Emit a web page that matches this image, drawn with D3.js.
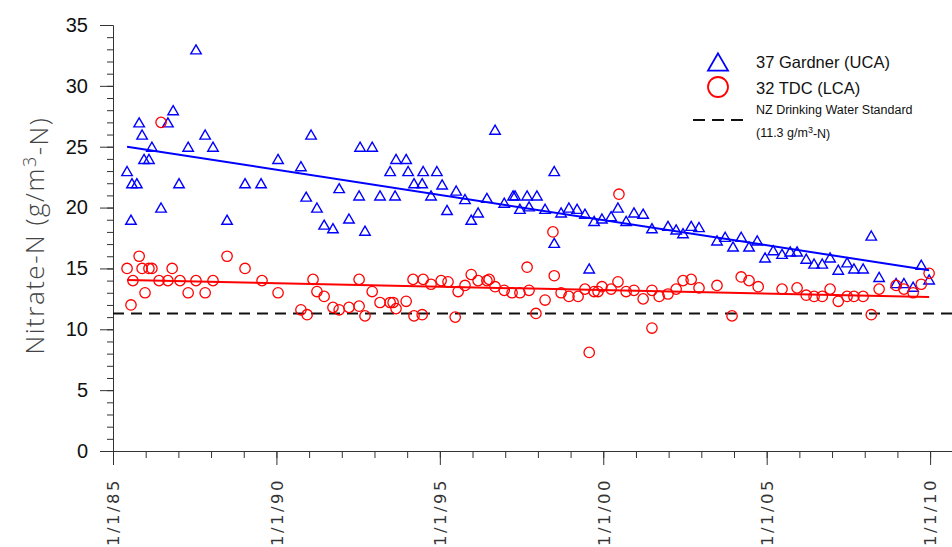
<!DOCTYPE html>
<html>
<head>
<meta charset="utf-8">
<script src="https://cdn.jsdelivr.net/npm/d3@7"></script>
<style>
  body { margin: 0; background: #fff; }
  svg { display: block; }
</style>
</head>
<body>
<script>
// sample dates (decimal years) and nitrate values, g/m3-N
const gardnerDates = [1985.43, 1985.55, 1985.58, 1985.73, 1985.80, 1985.89, 1985.95, 1986.10, 1986.19, 1986.47,
  1986.68, 1986.84, 1987.02, 1987.30, 1987.54, 1987.82, 1988.06, 1988.49, 1989.04, 1989.53,
  1990.05, 1990.75, 1990.91, 1991.06, 1991.24, 1991.46, 1991.73, 1991.92, 1992.22, 1992.53,
  1992.56, 1992.71, 1992.93, 1993.17, 1993.48, 1993.63, 1993.66, 1993.97, 1994.03, 1994.21,
  1994.46, 1994.49, 1994.73, 1994.91, 1995.07, 1995.22, 1995.50, 1995.77, 1995.96, 1996.17,
  1996.44, 1996.69, 1996.97, 1997.24, 1997.30, 1997.45, 1997.67, 1997.73, 1997.97, 1998.22,
  1998.50, 1998.50, 1998.71, 1998.95, 1999.20, 1999.44, 1999.57, 1999.72, 1999.96, 2000.24,
  2000.45, 2000.70, 2000.94, 2001.22, 2001.49, 2001.98, 2002.23, 2002.44, 2002.69, 2002.93,
  2003.48, 2003.73, 2003.97, 2004.22, 2004.46, 2004.71, 2004.95, 2005.20, 2005.47, 2005.72,
  2005.93, 2006.21, 2006.45, 2006.70, 2006.94, 2007.19, 2007.46, 2007.67, 2007.95, 2008.20,
  2008.44, 2008.96, 2009.20, 2009.48, 2009.73, 2009.97];
const gardnerValues = [23, 19, 22, 22, 27, 26, 24, 24, 25, 20,
  27, 28, 22, 25, 33, 26, 25, 19, 22, 22,
  24, 23.4, 20.9, 26, 20.0, 18.6, 18.3, 21.6, 19.1, 21.0,
  25, 18.1, 25, 21.0, 23.0, 21.0, 24, 24, 23, 22,
  22, 23, 21, 23, 21.9, 19.8, 21.4, 20.7, 19.0, 19.6,
  20.8, 26.4, 20.4, 21.0, 21.0, 19.9, 21.0, 20.1, 21.0, 19.9,
  23.0, 17.1, 19.6, 20.0, 19.9, 19.5, 15.0, 18.9, 19.1, 19.3,
  20.0, 18.9, 19.6, 19.5, 18.3, 18.5, 18.2, 17.9, 18.5, 18.4,
  17.3, 17.6, 16.8, 17.6, 16.8, 17.3, 15.9, 16.5, 16.2, 16.4,
  16.4, 15.8, 15.4, 15.4, 15.9, 14.9, 15.5, 15.0, 15.0, 17.7,
  14.3, 13.8, 13.8, 13.5, 15.3, 14.1];

const tdcDates = [1985.43, 1985.55, 1985.61, 1985.80, 1985.89, 1985.98, 1986.10, 1986.19, 1986.41, 1986.47,
  1986.68, 1986.81, 1987.05, 1987.30, 1987.54, 1987.82, 1988.06, 1988.49, 1989.04, 1989.56,
  1990.05, 1990.75, 1990.94, 1991.12, 1991.24, 1991.46, 1991.73, 1991.92, 1992.22, 1992.53,
  1992.53, 1992.71, 1992.93, 1993.17, 1993.48, 1993.57, 1993.66, 1993.97, 1994.18, 1994.21,
  1994.46, 1994.49, 1994.73, 1995.04, 1995.25, 1995.47, 1995.56, 1995.77, 1995.96, 1996.17,
  1996.44, 1996.51, 1996.69, 1996.97, 1997.21, 1997.45, 1997.67, 1997.73, 1997.94, 1998.22,
  1998.46, 1998.50, 1998.71, 1998.95, 1999.23, 1999.44, 1999.57, 1999.72, 1999.84, 1999.96,
  2000.24, 2000.45, 2000.48, 2000.70, 2000.94, 2001.22, 2001.49, 2001.49, 2001.71, 2001.98,
  2002.23, 2002.44, 2002.69, 2002.93, 2003.48, 2003.94, 2004.22, 2004.46, 2004.74, 2005.47,
  2005.93, 2006.21, 2006.45, 2006.70, 2006.94, 2007.19, 2007.46, 2007.67, 2007.95, 2008.20,
  2008.44, 2008.96, 2009.20, 2009.48, 2009.73, 2009.97];
const tdcValues = [15, 12, 14, 16, 15, 13, 15, 15, 14, 27,
  14, 15, 14, 13, 14, 13, 14, 16, 15, 14,
  13, 11.6, 11.2, 14.1, 13.1, 12.7, 11.8, 11.6, 11.8, 14.1,
  11.9, 11.1, 13.1, 12.2, 12.2, 12.2, 11.7, 12.3, 14.1, 11.1,
  11.2, 14.1, 13.7, 14.0, 13.9, 11.0, 13.1, 13.6, 14.5, 14.0,
  14.0, 14.1, 13.5, 13.2, 13.0, 13.0, 15.1, 13.2, 11.3, 12.4,
  18.0, 14.4, 13.0, 12.7, 12.7, 13.3, 8.1, 13.1, 13.1, 13.5,
  13.3, 13.9, 21.1, 13.1, 13.2, 12.5, 13.2, 10.1, 12.7, 12.9,
  13.3, 14.0, 14.1, 13.4, 13.6, 11.1, 14.3, 14.0, 13.5, 13.3,
  13.4, 12.8, 12.7, 12.7, 13.3, 12.3, 12.7, 12.7, 12.7, 11.2,
  13.3, 13.6, 13.3, 13.0, 13.7, 14.6];

// linear trends, start and end points
const gardnerTrend = [[1985.43, 25.0], [2009.97, 14.85]];
const tdcTrend = [[1985.43, 14.05], [2009.97, 12.65]];
const drinkingStandard = 11.3;

const yearTicks = [1985, 1990, 1995, 2000, 2005, 2010];
const yearTickLabels = ["1/1/85", "1/1/90", "1/1/95", "1/1/00", "1/1/05", "1/1/10"];
const valueTicks = [0, 5, 10, 15, 20, 25, 30, 35];

const width = 952, height = 547;

const svg = d3.select("body").append("svg")
    .attr("width", width)
    .attr("height", height)
    .style("font-family", "'Liberation Sans', Arial, sans-serif");

const x = d3.scaleLinear().domain([1985, 2010.67]).range([113, 952]);
const y = d3.scaleLinear().domain([0, 35]).range([451, 25]);

// axes: minor ticks first, then major
svg.append("g")
    .attr("transform", "translate(0," + y(0) + ")")
    .call(d3.axisBottom(x).tickValues(d3.range(1985, 2011)).tickSize(7).tickFormat(""))
    .call(g => g.selectAll("line, path").attr("stroke", "#333"));

const xMajor = svg.append("g")
    .attr("transform", "translate(0," + y(0) + ")")
    .call(d3.axisBottom(x).tickValues(yearTicks).tickSize(14).tickSizeOuter(0).tickFormat((d, i) => yearTickLabels[i]))
    .call(g => g.selectAll("line, path").attr("stroke", "#333"));

xMajor.selectAll("text")
    .attr("y", 0)
    .attr("dy", "0.35em")
    .attr("transform", "translate(0,27) rotate(-90)")
    .attr("text-anchor", "end")
    .attr("fill", "#333")
    .style("font-size", "16.5px")
    .style("letter-spacing", "2.5px")
    .style("font-family", "'DejaVu Sans', sans-serif");

svg.append("g")
    .attr("transform", "translate(" + x(1985) + ",0)")
    .call(d3.axisLeft(y).tickValues(d3.range(0, 36)).tickSize(6).tickSizeOuter(0).tickFormat(""))
    .call(g => g.selectAll("line, path").attr("stroke", "#333"));

svg.append("g")
    .attr("transform", "translate(" + x(1985) + ",0)")
    .call(d3.axisLeft(y).tickValues(valueTicks).tickSize(13).tickPadding(12).tickSizeOuter(0))
    .call(g => g.selectAll("line, path").attr("stroke", "#333"))
    .call(g => g.selectAll("text").attr("fill", "#111").style("font-size", "20px"));

// y title
const title = svg.append("text")
    .attr("transform", "translate(44," + y(17.7) + ") rotate(-90)")
    .attr("text-anchor", "middle")
    .attr("fill", "#444")
    .style("font-size", "26px")
    .style("letter-spacing", "1.5px")
    .style("font-family", "'Open Sans', sans-serif")
    .style("font-weight", "300");
title.append("tspan").text("Nitrate-N (g/m");
title.append("tspan").attr("dy", "-0.45em").style("font-size", "18px").text("3");
title.append("tspan").attr("dy", "0.45em").text("-N)");

// drinking water standard
svg.append("line")
    .attr("x1", x(1985)).attr("x2", width)
    .attr("y1", y(drinkingStandard)).attr("y2", y(drinkingStandard))
    .attr("stroke", "#111")
    .attr("stroke-width", 2)
    .attr("stroke-dasharray", "11,7");

// markers
const tri = (s) => {
  const h = s * Math.sqrt(3) / 2;
  return "M0," + (-h / 2) + "L" + (s / 2) + "," + (h / 2) + "L" + (-s / 2) + "," + (h / 2) + "Z";
};

svg.append("g").selectAll("path")
    .data(d3.zip(gardnerDates, gardnerValues))
    .enter().append("path")
    .attr("d", tri(10.5))
    .attr("transform", d => "translate(" + x(d[0]) + "," + y(d[1]) + ")")
    .attr("fill", "none")
    .attr("stroke", "#0000ff")
    .attr("stroke-width", 1.4);

svg.append("g").selectAll("circle")
    .data(d3.zip(tdcDates, tdcValues))
    .enter().append("circle")
    .attr("cx", d => x(d[0]))
    .attr("cy", d => y(d[1]))
    .attr("r", 5.2)
    .attr("fill", "none")
    .attr("stroke", "#ff0000")
    .attr("stroke-width", 1.3);

// trend lines
const line = d3.line().x(d => x(d[0])).y(d => y(d[1]));
svg.append("path").attr("d", line(gardnerTrend))
    .attr("fill", "none").attr("stroke", "#0000ff").attr("stroke-width", 2);
svg.append("path").attr("d", line(tdcTrend))
    .attr("fill", "none").attr("stroke", "#ff0000").attr("stroke-width", 2);

// legend
const legend = svg.append("g").attr("transform", "translate(718,0)");
legend.append("path").attr("d", tri(20)).attr("transform", "translate(0,62)")
    .attr("fill", "none").attr("stroke", "#0000ff").attr("stroke-width", 1.8);
legend.append("circle").attr("cx", 0).attr("cy", 87).attr("r", 10)
    .attr("fill", "none").attr("stroke", "#ff0000").attr("stroke-width", 1.8);
legend.append("line").attr("x1", -25).attr("x2", 25).attr("y1", 120).attr("y2", 120)
    .attr("stroke", "#111").attr("stroke-width", 2).attr("stroke-dasharray", "12,7");

legend.append("text").attr("x", 38).attr("y", 68).style("font-size", "16.5px").attr("fill", "#111")
    .text("37 Gardner (UCA)");
legend.append("text").attr("x", 38).attr("y", 94).style("font-size", "16.5px").attr("fill", "#111")
    .text("32 TDC (LCA)");
legend.append("text").attr("x", 38).attr("y", 114).style("font-size", "12.5px").attr("fill", "#111")
    .text("NZ Drinking Water Standard");
const std = legend.append("text").attr("x", 38).attr("y", 137).style("font-size", "12.5px").attr("fill", "#111");
std.append("tspan").text("(11.3 g/m");
std.append("tspan").attr("dy", "-0.4em").style("font-size", "9px").text("3");
std.append("tspan").attr("dy", "0.4em").text("-N)");
</script>
</body>
</html>
